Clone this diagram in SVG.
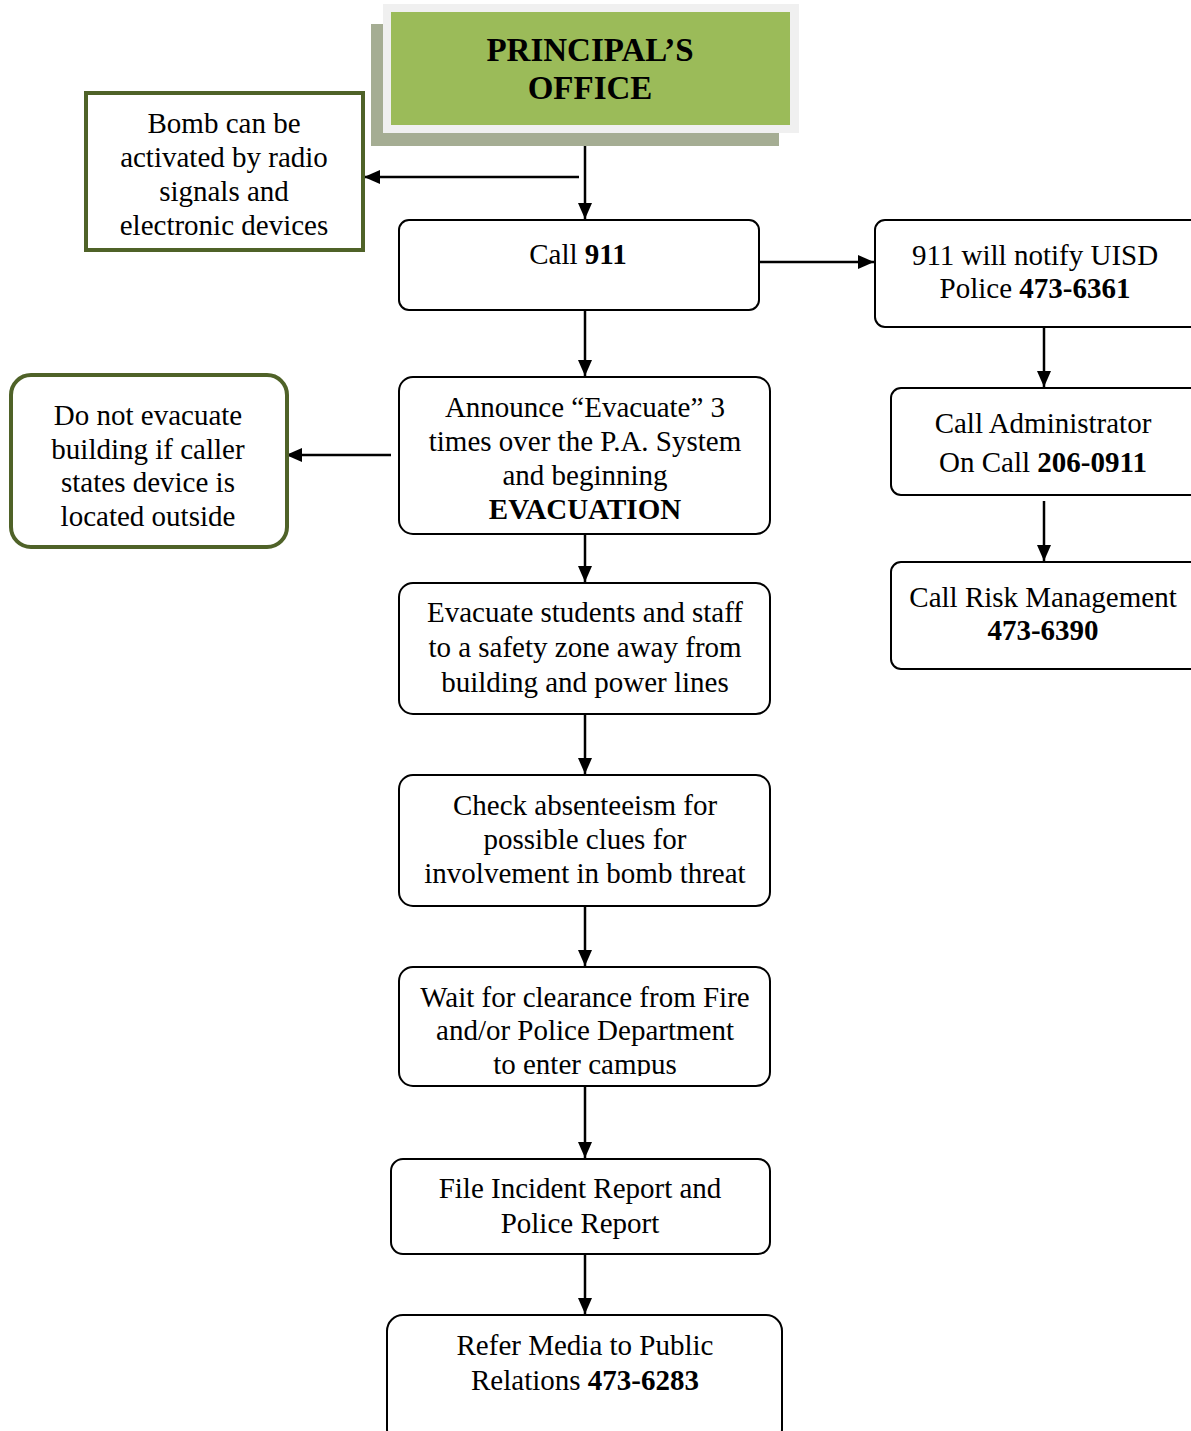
<svg xmlns="http://www.w3.org/2000/svg" width="1191" height="1431" viewBox="0 0 1191 1431">
  <defs>
    <marker id="arrow" viewBox="0 0 16 14" refX="16" refY="7" markerWidth="16" markerHeight="14" markerUnits="userSpaceOnUse" orient="auto">
      <path d="M0,0 L16,7 L0,14 z" fill="#000"/>
    </marker>
    <clipPath id="waitClip">
      <rect x="399" y="967" width="371" height="109"/>
    </clipPath>
  </defs>
  <style>
    text { font-family: "Liberation Serif", "Times New Roman", serif; font-size: 29px; fill: #000; text-anchor: middle; }
    .b { font-weight: bold; }
    .title { font-size: 33px; font-weight: bold; }
    .box { fill: #fff; stroke: #000; stroke-width: 2; }
    .note { fill: #fff; stroke: #4f6228; stroke-width: 4; }
    .link { stroke: #000; stroke-width: 2.5; fill: none; marker-end: url(#arrow); }
  </style>
  <rect width="1191" height="1431" fill="#fff"/>

  <g id="connectors">
    <path class="link" d="M585,146 L585,219"/>
    <path class="link" d="M579,177 L364,177"/>
    <path class="link" d="M759,262 L874,262"/>
    <path class="link" d="M1044,327 L1044,387"/>
    <path class="link" d="M1044,501 L1044,561"/>
    <path class="link" d="M585,310 L585,376"/>
    <path class="link" d="M391,455 L286,455"/>
    <path class="link" d="M585,534 L585,582"/>
    <path class="link" d="M585,714 L585,774"/>
    <path class="link" d="M585,906 L585,966"/>
    <path class="link" d="M585,1086 L585,1158"/>
    <path class="link" d="M585,1254 L585,1314"/>
  </g>

  <g id="principal">
    <rect x="371" y="24" width="408" height="122" fill="#a5ad93"/>
    <rect x="383" y="4" width="416" height="129" fill="#f0f0f0"/>
    <rect x="391" y="12" width="399" height="113" fill="#9bbb59"/>
    <text class="title" x="590" y="61">PRINCIPAL’S</text>
    <text class="title" x="590" y="99">OFFICE</text>
  </g>

  <g id="bomb-note">
    <rect class="note" x="86" y="93" width="277" height="157"/>
    <text x="224" y="133">Bomb can be</text>
    <text x="224" y="167">activated by radio</text>
    <text x="224" y="201">signals and</text>
    <text x="224" y="235">electronic devices</text>
  </g>

  <g id="call911">
    <rect class="box" x="399" y="220" width="360" height="90" rx="10"/>
    <text x="578" y="264">Call <tspan class="b">911</tspan></text>
  </g>

  <g id="uisd-police">
    <rect class="box" x="875" y="220" width="330" height="107" rx="10"/>
    <text x="1035" y="265">911 will notify UISD</text>
    <text x="1035" y="298">Police <tspan class="b">473-6361</tspan></text>
  </g>

  <g id="administrator">
    <rect class="box" x="891" y="388" width="314" height="107" rx="10"/>
    <text x="1043" y="433">Call Administrator</text>
    <text x="1043" y="472">On Call <tspan class="b">206-0911</tspan></text>
  </g>

  <g id="risk-management">
    <rect class="box" x="891" y="562" width="314" height="107" rx="10"/>
    <text x="1043" y="607">Call Risk Management</text>
    <text x="1043" y="640" class="b">473-6390</text>
  </g>

  <g id="announce">
    <rect class="box" x="399" y="377" width="371" height="157" rx="14"/>
    <text x="585" y="417">Announce “Evacuate” 3</text>
    <text x="585" y="451">times over the P.A. System</text>
    <text x="585" y="485">and beginning</text>
    <text x="585" y="519" class="b">EVACUATION</text>
  </g>

  <g id="outside-note">
    <rect class="note" x="11" y="375" width="276" height="172" rx="20"/>
    <text x="148" y="425">Do not evacuate</text>
    <text x="148" y="459">building if caller</text>
    <text x="148" y="492">states device is</text>
    <text x="148" y="526">located outside</text>
  </g>

  <g id="evacuate">
    <rect class="box" x="399" y="583" width="371" height="131" rx="14"/>
    <text x="585" y="622">Evacuate students and staff</text>
    <text x="585" y="657">to a safety zone away from</text>
    <text x="585" y="692">building and power lines</text>
  </g>

  <g id="absenteeism">
    <rect class="box" x="399" y="775" width="371" height="131" rx="14"/>
    <text x="585" y="815">Check absenteeism for</text>
    <text x="585" y="849">possible clues for</text>
    <text x="585" y="883">involvement in bomb threat</text>
  </g>

  <g id="clearance">
    <rect class="box" x="399" y="967" width="371" height="119" rx="14"/>
    <g clip-path="url(#waitClip)">
      <text x="585" y="1007">Wait for clearance from Fire</text>
      <text x="585" y="1040">and/or Police Department</text>
      <text x="585" y="1074">to enter campus</text>
    </g>
  </g>

  <g id="incident-report">
    <rect class="box" x="391" y="1159" width="379" height="95" rx="12"/>
    <text x="580" y="1198">File Incident Report and</text>
    <text x="580" y="1233">Police Report</text>
  </g>

  <g id="media">
    <rect class="box" x="387" y="1315" width="395" height="130" rx="16"/>
    <text x="585" y="1355">Refer Media to Public</text>
    <text x="585" y="1390">Relations <tspan class="b">473-6283</tspan></text>
  </g>
</svg>
